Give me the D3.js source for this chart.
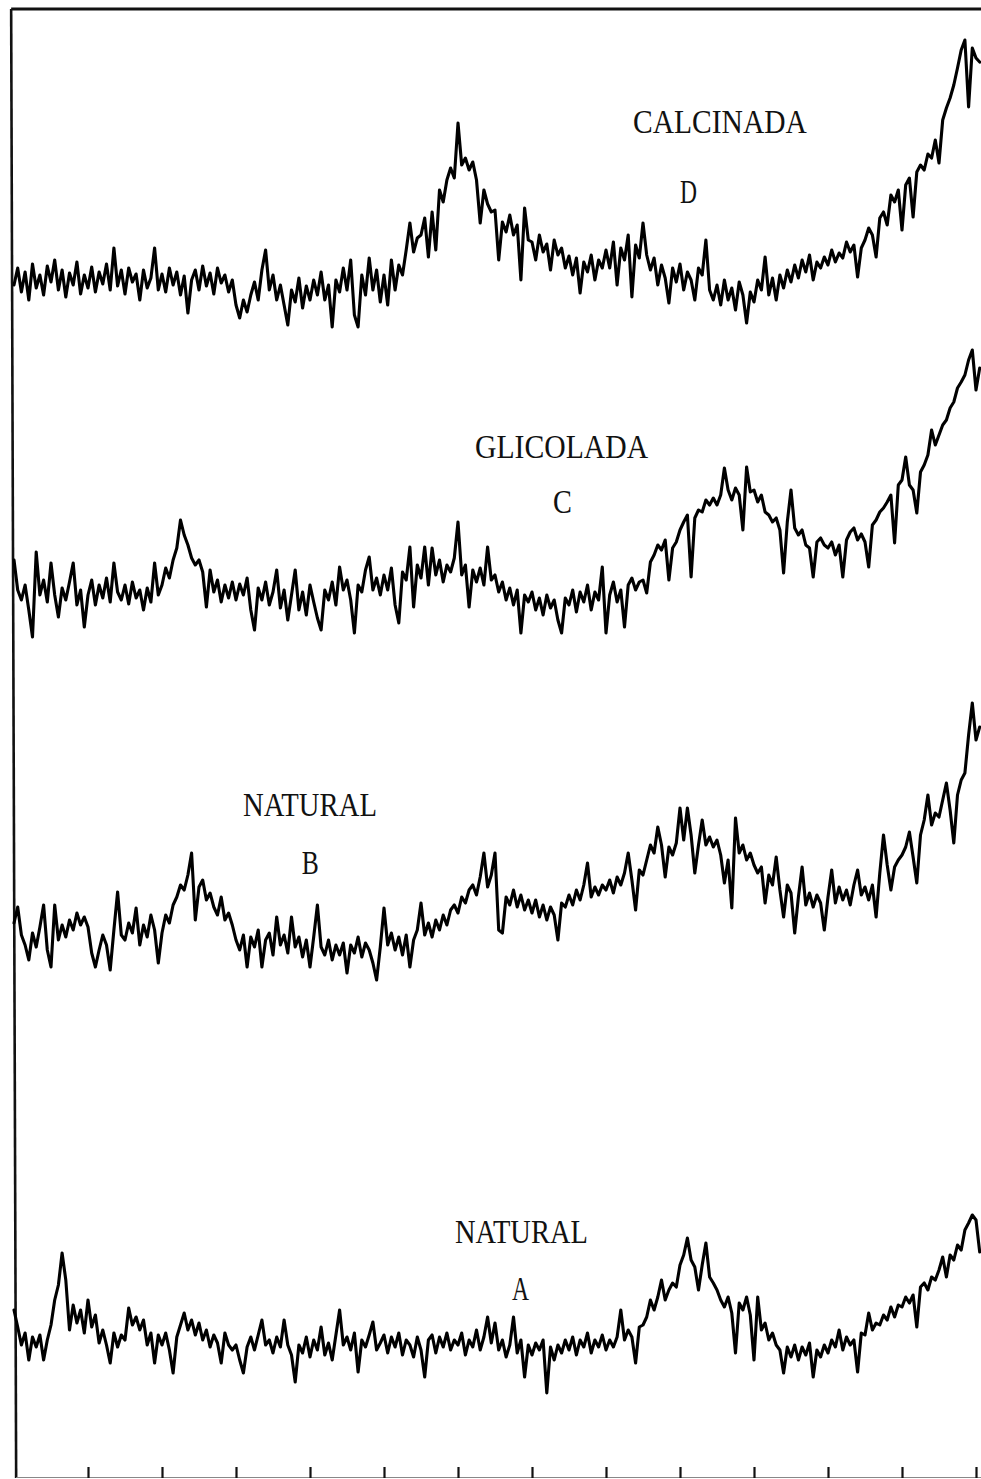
<!DOCTYPE html>
<html><head><meta charset="utf-8">
<script src="https://cdn.jsdelivr.net/npm/d3@7"></script>
<style>body{margin:0;background:#fff}svg{display:block}</style>
</head><body>
<svg id="chart" width="981" height="1479"></svg>
<script>
// ---- DATA ----
// scan grid (2θ, degrees): start and step of the diffractometer scan
const scanStart = 2.0;
const scanStep = 0.1;
// bottom axis tick positions (2θ)
const tickValues = [4, 6, 8, 10, 12, 14, 16, 18, 20, 22, 24, 26, 28];
// series names and labels
const seriesNames = ["D", "C", "B", "A"];
const seriesTitles = ["CALCINADA", "GLICOLADA", "NATURAL", "NATURAL"];
// vertical offset of each trace (stacked diagram, intensity units)
const seriesOffsets = [1148, 838, 493, 83];

// intensities (a.u., relative to each trace's own offset)
const valuesD = [
45,62,38,58,30,66,42,55,35,64,
48,70,40,60,33,57,45,68,36,55,
42,63,38,58,46,66,40,82,44,60,
36,62,48,56,30,60,42,52,82,40,
56,38,62,45,58,35,54,17,50,60,
40,64,44,57,36,62,47,55,38,50,
25,12,30,18,35,48,30,60,80,40,
55,30,45,25,5,40,28,52,22,44,
30,50,35,58,30,45,3,50,38,62,
40,70,15,3,55,35,72,40,60,28,
55,25,70,40,65,55,80,107,78,92,
95,112,73,118,80,140,128,150,162,152,
207,165,172,160,168,150,107,140,126,118,
120,70,108,98,115,95,105,50,122,90,
88,70,95,78,86,60,90,75,82,62,
74,55,72,37,68,58,75,50,70,62,
80,62,88,45,82,70,95,33,85,72,
107,75,60,72,45,65,52,27,62,48,
66,40,58,50,30,62,55,90,40,30,
45,25,50,30,42,20,48,35,7,38,
28,50,40,73,35,52,30,55,42,60,
48,65,52,70,58,75,50,68,62,73,
65,80,68,77,72,88,78,85,53,82,
90,102,95,73,112,118,105,135,128,140,
100,145,152,113,158,165,160,176,172,190,
167,210,222,232,245,262,280,290,223,282,
272,268];

const valuesC = [
80,50,40,55,30,3,88,45,60,38,
77,45,23,52,40,58,77,35,50,13,
45,60,35,55,42,62,38,77,48,40,
55,36,58,42,50,30,52,38,77,45,
55,72,62,80,92,120,105,95,82,75,
80,68,33,70,48,60,38,55,42,58,
40,56,45,62,30,10,52,40,58,35,
48,70,32,50,20,45,70,30,48,25,
55,38,22,10,50,40,58,35,73,50,
60,40,7,55,48,70,83,50,62,45,
65,50,72,35,17,68,60,93,33,75,
62,93,55,92,65,80,58,75,68,82,
118,65,75,33,70,58,72,55,93,60,
65,48,58,40,52,35,50,7,45,38,
48,30,42,25,45,32,40,20,7,42,
35,50,28,48,38,55,30,48,40,73,
7,45,58,38,50,13,55,62,50,58,
60,47,78,85,95,90,100,60,92,98,
110,118,125,63,122,130,128,140,135,142,
135,145,172,150,140,152,145,110,173,148,
150,138,145,128,125,118,122,110,67,118,
150,112,105,110,95,92,63,98,102,95,
92,98,85,95,63,100,108,112,100,106,
98,73,115,120,128,132,138,145,97,155,
160,183,155,150,127,168,175,185,210,195,
205,215,220,232,238,252,258,265,280,290,
250,272];

const valuesB = [
62,78,50,40,25,52,38,58,80,35,
18,80,45,60,48,65,55,72,60,68,
58,32,18,35,50,40,15,55,93,50,
45,62,52,77,40,60,48,70,55,22,
52,70,62,80,88,100,95,110,132,65,
98,105,85,92,78,70,88,65,72,60,
45,35,50,18,48,38,55,18,45,52,
30,68,40,50,32,68,38,48,28,45,
18,48,80,38,30,45,25,40,30,42,
12,40,32,48,28,42,35,22,5,38,
77,40,52,35,48,30,50,18,45,55,
82,50,62,48,65,55,70,60,75,80,
72,88,82,95,100,90,108,132,98,110,
132,55,52,88,80,95,78,90,75,85,
72,85,68,80,65,78,70,45,82,78,
90,80,95,85,100,122,88,98,90,100,
95,105,92,108,100,112,132,105,75,115,
110,125,140,132,158,140,108,138,130,142,
177,145,177,150,112,140,165,140,148,138,
145,130,102,125,77,167,132,140,125,132,
120,112,118,82,110,100,128,95,68,100,
92,52,88,118,80,92,78,90,82,55,
88,115,82,98,85,95,80,100,115,90,
98,85,100,68,112,150,120,95,118,125,
130,138,153,128,102,150,165,190,160,172,
168,185,202,175,142,190,205,212,250,282,
245,258];

const valuesA = [
85,68,50,62,35,58,48,60,35,55,
70,95,110,142,115,65,90,72,85,62,
95,68,80,52,65,50,32,62,48,60,
55,87,70,78,65,75,50,62,32,60,
50,62,45,22,58,70,82,65,75,60,
72,55,65,48,60,52,32,62,50,45,
50,35,22,48,58,45,60,75,50,55,
42,58,48,75,50,40,13,50,42,58,
38,55,45,68,40,52,35,60,85,50,
58,45,62,23,55,48,60,73,45,52,
60,42,58,48,62,40,55,50,38,58,
45,18,55,60,42,58,48,62,45,55,
50,62,40,55,48,65,45,58,78,52,
72,45,55,38,50,78,42,55,18,50,
40,52,45,55,2,48,35,50,42,55,
45,58,40,55,48,62,42,55,48,60,
45,55,48,58,85,55,65,58,32,68,
70,78,95,85,98,115,95,105,112,108,
130,140,157,135,128,105,130,152,118,112,
105,95,88,98,82,42,92,85,98,80,
35,98,65,72,55,62,50,45,22,48,
38,50,35,48,40,52,18,45,38,50,
42,55,48,65,45,58,50,55,23,62,
60,82,65,72,70,80,75,88,78,90,
88,98,92,100,68,108,112,105,118,115,
125,138,118,140,135,150,145,165,172,180,
175,143];

const seriesValues = [valuesD, valuesC, valuesB, valuesA];

// ---- LAYOUT (annotation placement in data coordinates) ----
const annotations = [
  {text: "CALCINADA", x: 18.73, y: 1345, w: 4.70},
  {text: "D",         x: 20.00, y: 1275, w: 0.46},
  {text: "GLICOLADA", x: 14.46, y: 1020, w: 4.68},
  {text: "C",         x: 16.57, y: 965,  w: 0.51},
  {text: "NATURAL",   x: 8.19,  y: 662,  w: 3.62},
  {text: "B",         x: 9.78,  y: 604,  w: 0.46},
  {text: "NATURAL",   x: 13.92, y: 235,  w: 3.59},
  {text: "A",         x: 15.46, y: 178,  w: 0.46}
];

// ---- DRAW ----
const svg = d3.select("#chart");
const W = 981, H = 1479;
svg.append("rect").attr("width", W).attr("height", H).attr("fill", "#fff");

const x = d3.scaleLinear().domain([4, 28]).range([88, 976]);
const y = d3.scaleLinear().domain([0, 1470]).range([1478, 8]);

const xLeft = x(1.95);   // left frame position
const topY = y(1469);

// frame
svg.append("line").attr("x1", xLeft - 1).attr("y1", topY).attr("x2", W).attr("y2", topY)
  .attr("stroke", "#111").attr("stroke-width", 3);
svg.append("line").attr("x1", xLeft - 1).attr("y1", topY).attr("x2", xLeft + 4).attr("y2", y(0))
  .attr("stroke", "#111").attr("stroke-width", 2.6);
svg.append("line").attr("x1", xLeft + 4).attr("y1", y(0.5)).attr("x2", W).attr("y2", y(0.5))
  .attr("stroke", "#888").attr("stroke-width", 1.2);

// bottom ticks
const axis = d3.axisTop(x).tickValues(tickValues).tickSize(11).tickSizeOuter(0).tickFormat("");
const gAxis = svg.append("g").attr("transform", `translate(0,${y(0)})`).call(axis);
gAxis.select(".domain").remove();
gAxis.selectAll(".tick line").attr("stroke", "#111").attr("stroke-width", 2.2);

// traces
const line = d3.line()
  .x((d, i) => x(scanStart + i * scanStep))
  .y(d => d);

seriesValues.forEach((vals, si) => {
  const off = seriesOffsets[si];
  const pts = vals.map(v => y(v + off));
  svg.append("path")
    .attr("d", line(pts))
    .attr("fill", "none")
    .attr("stroke", "#000")
    .attr("stroke-width", 3.1)
    .attr("stroke-linejoin", "round")
    .attr("stroke-linecap", "round");
});

// labels
svg.selectAll("text.lbl").data(annotations).enter().append("text")
  .attr("class", "lbl")
  .attr("x", d => x(d.x))
  .attr("y", d => y(d.y))
  .attr("textLength", d => x(d.x + d.w) - x(d.x))
  .attr("lengthAdjust", "spacingAndGlyphs")
  .attr("font-family", "'Liberation Serif', 'DejaVu Serif', serif")
  .attr("font-size", 34)
  .attr("fill", "#111")
  .text(d => d.text);
</script>
</body></html>
